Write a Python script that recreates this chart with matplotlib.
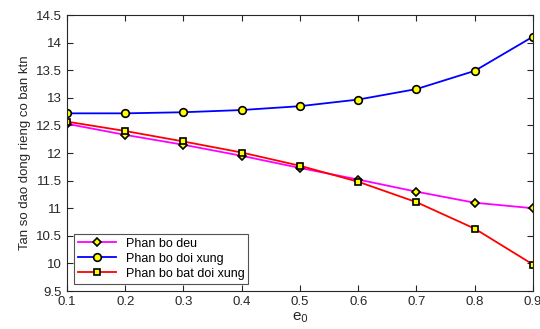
import matplotlib
matplotlib.use("Agg")
import matplotlib.pyplot as plt

plt.rcParams['font.family'] = ['Liberation Sans', 'DejaVu Sans']

# data
e0 = [0.1, 0.2, 0.3, 0.4, 0.5, 0.6, 0.7, 0.8, 0.9]
deu = [12.53, 12.33, 12.15, 11.95, 11.73, 11.52, 11.30, 11.10, 11.00]
doi_xung = [12.72, 12.72, 12.74, 12.78, 12.85, 12.97, 13.16, 13.49, 14.11]
bat_doi_xung = [12.57, 12.40, 12.21, 12.01, 11.77, 11.48, 11.11, 10.63, 9.98]

fig = plt.figure(figsize=(5.4, 3.29), dpi=100)
ax = fig.add_axes([0.124, 0.1155, 0.863, 0.8385])

mk = dict(markerfacecolor='yellow', markeredgecolor='black', markeredgewidth=1.2, linewidth=1.3)
ax.plot(e0, deu, color='magenta', marker='D', markersize=4.5, label='Phan bo deu', **mk)
ax.plot(e0, doi_xung, color='blue', marker='o', markersize=5.5, label='Phan bo doi xung', **mk)
ax.plot(e0, bat_doi_xung, color='red', marker='s', markersize=5, label='Phan bo bat doi xung', **mk)

ax.set_xlim(0.1, 0.9)
ax.set_ylim(9.5, 14.5)
ax.set_xticks(e0)
ax.set_xticklabels(['0.1', '0.2', '0.3', '0.4', '0.5', '0.6', '0.7', '0.8', '0.9'])
ax.set_yticks([9.5, 10, 10.5, 11, 11.5, 12, 12.5, 13, 13.5, 14, 14.5])
ax.set_yticklabels(['9.5', '10', '10.5', '11', '11.5', '12', '12.5', '13', '13.5', '14', '14.5'])
ax.tick_params(direction='in', top=True, right=True, labelsize=9.5, length=4, colors='#262626')
for s in ax.spines.values():
    s.set_color('#262626')
    s.set_linewidth(0.8)

ax.set_xlabel('e$_0$', fontsize=11, color='#262626', labelpad=2)
ax.set_ylabel('Tan so dao dong rieng co ban ktn', fontsize=9.5, color='#262626')

leg = ax.legend(loc='lower left', fontsize=9, fancybox=False, edgecolor='#262626',
                handlelength=3, borderaxespad=0.6, labelspacing=0.25, borderpad=0.3)
leg.get_frame().set_linewidth(0.8)

fig.savefig('out.png', dpi=100, facecolor='white')
